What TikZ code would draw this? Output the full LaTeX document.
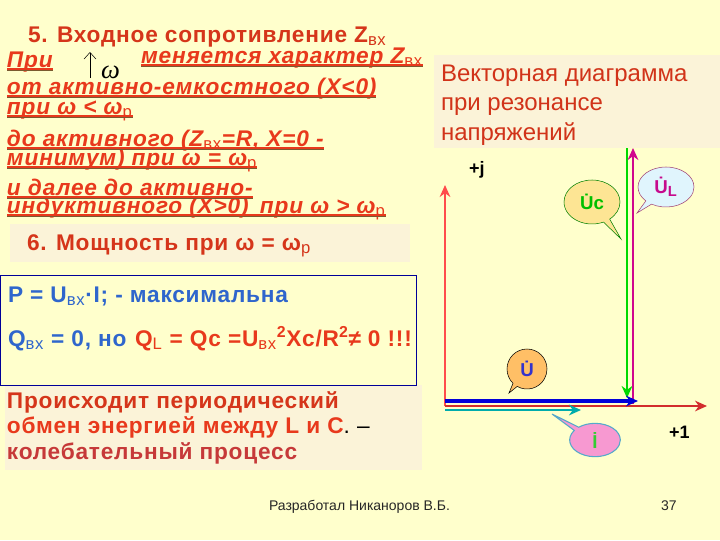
\documentclass[tikz,border=0pt]{standalone}
\usepackage{fontspec}
\setmainfont{Liberation Sans}
\newfontfamily\serifomega{Liberation Serif}
\newfontfamily\lsa[LetterSpace=3.4]{Liberation Sans}
\newfontfamily\lsb[LetterSpace=3.6]{Liberation Sans}
\usetikzlibrary{shapes.callouts,arrows.meta}
\definecolor{bgc}{HTML}{FFFFCC}
\definecolor{panelc}{HTML}{FBF3D8}
\definecolor{redtx}{HTML}{E8391C}
\definecolor{bluetx}{HTML}{2F66CC}
\definecolor{ulgray}{HTML}{7A5A30}
\newcommand{\sbx}[1]{\textsubscript{\fontsize{12.5}{12}\selectfont\mdseries\upshape #1}}
\tikzset{
  x=0.75pt,y=-0.75pt,
  txt/.style={anchor=base west,inner sep=0pt,outer sep=0pt},
  head/.style={txt,font=\lsa\fontsize{17}{18}\selectfont\bfseries,text=redtx!92!black},
  ital/.style={txt,font=\lsb\fontsize{17}{18}\selectfont\bfseries\itshape,text=redtx},
  bluehd/.style={txt,font=\lsa\fontsize{17}{18}\selectfont\bfseries,text=bluetx},
  redhd/.style={txt,font=\lsa\fontsize{17}{18}\selectfont\bfseries,text=redtx},
  titl/.style={txt,font=\fontsize{18}{20}\selectfont,text=redtx!90!black},
  axl/.style={txt,font=\fontsize{13.5}{16}\selectfont\bfseries,text=black},
  foot/.style={txt,font=\fontsize{10.5}{12}\selectfont,text=black!85},
  ulr/.style={draw=redtx,line width=1.2pt},
  ulg/.style={draw=ulgray,line width=1pt},
  vec/.style={-{Stealth[length=9pt,width=8pt]}},
  coll/.style={ellipse callout,draw,inner sep=0pt,line width=0.4pt,font=\fontsize{14}{14}\selectfont\bfseries},
}
\newcommand{\ulin}[1]{%
  \draw[ulg] ([yshift=-2.8pt]#1.base west) -- ([yshift=-2.8pt]#1.base east);
  \draw[ulr] ([yshift=-1.7pt]#1.base west) -- ([yshift=-1.7pt]#1.base east);}
\begin{document}
\begin{tikzpicture}
\useasboundingbox (0,0) rectangle (720,540);
\fill[bgc] (0,0) rectangle (720,540);
\fill[panelc] (434,55) rectangle (720,148);
\fill[panelc] (10,224) rectangle (410,262);
\fill[panelc] (5,385) rectangle (422,470);
\node[head] (h5) at (28,42) {5. Входное сопротивление Z\sbx{вх}};
\node[ital] (l0a) at (7,67) {При};
\node[ital] (l0b) at (141,63) {меняется характер Z\sbx{вх}};
\node[ital] (l1) at (7,94) {от активно-емкостного (X<0)};
\node[ital] (l2) at (7,114) {при ω < ω\sbx{р}};
\node[ital] (l3) at (7,146) {до активного (Z\sbx{вх}=R, X=0 -};
\node[ital] (l4) at (7,165) {минимум) при ω = ω\sbx{р}};
\node[ital] (l5) at (7,195) {и далее до активно-};
\node[ital] (l6) at (7,213) {индуктивного (X>0)\enspace при ω > ω\sbx{р}};
\ulin{l0a}\ulin{l0b}\ulin{l1}\ulin{l2}\ulin{l3}\ulin{l4}\ulin{l5}\ulin{l6}
\coordinate (wlo) at (90,78);
\coordinate (whi) at (90,52);
\draw[-{Straight Barb[length=5pt,width=9pt]},line width=0.4pt] (wlo) -- (whi);
\node[txt,font=\fontsize{20}{20}\serifomega\itshape] (om) at (101,78) {ω};
\node[head] (h6) at (27,250) {6. Мощность при ω = ω\sbx{р}};
\node[draw=blue!60!black,fill=bgc,line width=0.7pt,minimum width=416*0.75pt,minimum height=110*0.75pt,inner sep=0pt,anchor=north west] (box) at (0,275) {};
\node[bluehd] (p) at (8,302) {P = U\sbx{вх}·I; - максимальна};
\node[bluehd] (q1) at (8,346) {Q\sbx{вх} = 0, но};
\node[redhd] (q2) at (135,346) {Q\sbx{L} = Qc =U\sbx{вх}\textsuperscript{2}Xc/R\textsuperscript{2}≠ 0 !!!};
\node[head] (e1) at (7,408) {Происходит периодический};
\node[head,text=redtx] (e2) at (7,433) {обмен энергией между L и C\textcolor{black}{\mdseries. –}};
\node[head,text=red!55!gray] (e3) at (7,459) {колебательный процесс};
\node[titl] (t1) at (441,81) {Векторная диаграмма};
\node[titl] (t2) at (441,110) {при резонансе};
\node[titl] (t3) at (441,140) {напряжений};
\node[axl] (pj) at (469,174) {+j};
\node[axl] (p1) at (669,438) {+1};
\coordinate (o) at (445,406);
\coordinate (jtip) at (445,185);
\coordinate (xtip) at (707,406);
\coordinate (ue) at (638,401);
\coordinate (ie) at (581,410);
\coordinate (io) at (445,410);
\coordinate (uo) at (445,401);
\coordinate (uct) at (627,148);
\coordinate (uce) at (627,398);
\coordinate (ult) at (633,148);
\coordinate (ulb) at (633,404);
\draw[vec,draw=red!70!white,line width=1.2pt] (o) -- (jtip);
\draw[vec,draw=red!65!gray,line width=1.2pt] (o) -- (xtip);
\draw[vec,draw=teal!65!cyan,line width=2pt] (io) -- (ie);
\draw[vec,draw=green!85!black,line width=2.2pt] (uct) -- (uce);
\draw[vec,draw=magenta!85!blue,line width=2.2pt] (ulb) -- (ult);
\draw[vec,draw=blue!85!black,line width=2.4pt] (uo) -- (ue);
\node[coll,fill=yellow!30!orange!25!bgc,draw=green!50!black,text=green!75!black,minimum width=42pt,minimum height=33pt,callout absolute pointer={(621,239)}] (cc) at (592,202) {\.Uc};
\node[coll,fill=cyan!12!white,draw=magenta!60!black,text=magenta!80!blue,minimum width=42pt,minimum height=30pt,callout absolute pointer={(637,213)}] (cl) at (666,187) {\.U\textsubscript{\fontsize{11}{11}\selectfont L}};
\node[coll,fill=orange!50!bgc,draw=black,text=blue!60!gray,minimum width=30pt,minimum height=30pt,callout absolute pointer={(509,393)}] (cu) at (527,369) {\.U};
\node[coll,fill=magenta!40!white,draw=cyan!60!gray,text=green!60!gray,line width=0.8pt,minimum width=38pt,minimum height=25pt,callout absolute pointer={(552,414)}] (ci) at (595,440) {\.I};
\node[foot] (f1) at (269,510) {Разработал Никаноров В.Б.};
\node[foot] (f2) at (661,510) {37};
\end{tikzpicture}
\end{document}
